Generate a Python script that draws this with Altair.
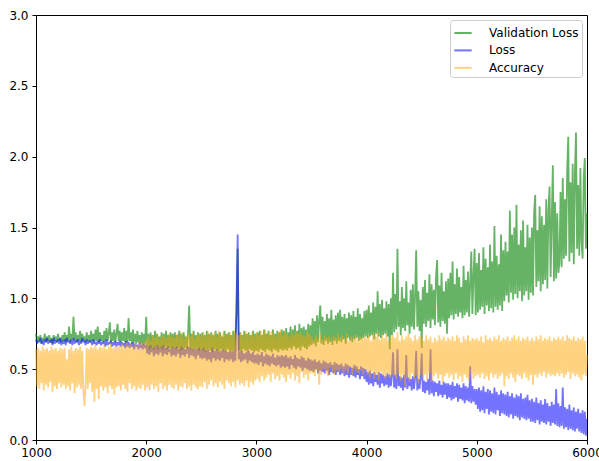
import altair as alt
import pandas as pd

# Training steps (x axis), one reading every 10 steps
steps = list(range(1000, 6001, 10))

# Values, in hundredths (one row = 250 steps)
val_loss = [
    75, 69, 73, 70, 74, 68, 72, 70, 75, 69, 73, 70, 74, 69, 72, 68, 74, 70, 73, 69, 75, 70, 72, 69, 74,
    70, 76, 69, 74, 70, 80, 69, 75, 71, 87, 70, 76, 69, 74, 70, 77, 69, 75, 70, 73, 69, 76, 70, 74, 69,
    77, 70, 75, 69, 78, 70, 80, 69, 76, 70, 74, 69, 77, 70, 79, 70, 75, 83, 69, 76, 70, 78, 69, 75, 82,
    70, 77, 69, 76, 70, 79, 68, 77, 69, 86, 70, 76, 68, 78, 69, 75, 68, 77, 69, 74, 68, 76, 67, 75, 68,
    87, 66, 75, 64, 76, 65, 74, 64, 77, 66, 75, 64, 73, 65, 76, 64, 75, 66, 77, 64, 74, 65, 76, 64, 75,
    65, 76, 64, 74, 65, 77, 63, 75, 64, 76, 65, 73, 64, 76, 95, 64, 75, 63, 77, 65, 74, 64, 76, 63, 75,
    64, 76, 63, 74, 62, 77, 64, 75, 63, 76, 62, 74, 64, 77, 63, 75, 62, 76, 64, 73, 63, 77, 62, 75, 64,
    76, 63, 74, 62, 77, 64, 75, 90, 135, 63, 76, 62, 74, 64, 77, 63, 75, 62, 76, 64, 74, 63, 77, 62, 75,
    63, 76, 62, 77, 64, 74, 63, 78, 62, 75, 64, 77, 63, 74, 62, 78, 64, 75, 63, 77, 62, 76, 64, 78, 63,
    77, 64, 79, 63, 76, 65, 80, 64, 78, 66, 81, 64, 77, 65, 82, 63, 79, 66, 80, 65, 78, 64, 82, 66, 81,
    67, 86, 68, 84, 66, 88, 69, 85, 95, 68, 87, 67, 84, 70, 89, 68, 86, 69, 92, 67, 85, 70, 88, 68, 90,
    70, 92, 69, 87, 71, 89, 68, 86, 72, 90, 70, 88, 69, 91, 71, 87, 72, 93, 70, 89, 71, 86, 72, 91, 73,
    92, 72, 95, 73, 90, 74, 97, 71, 94, 75, 105, 73, 96, 72, 99, 74, 93, 75, 98, 73, 96, 64, 100, 74, 118,
    76, 103, 78, 135, 80, 98, 74, 108, 79, 100, 77, 112, 81, 97, 75, 106, 80, 110, 78, 102, 134, 80, 105, 77, 99,
    65, 108, 82, 113, 80, 104, 84, 117, 79, 110, 85, 106, 81, 115, 127, 83, 109, 80, 118, 84, 105, 82, 112, 75, 114,
    86, 118, 88, 126, 85, 110, 89, 121, 87, 115, 90, 108, 86, 123, 88, 113, 90, 119, 87, 111, 133, 89, 116, 135, 88,
    125, 90, 132, 92, 120, 94, 136, 89, 128, 95, 122, 91, 138, 93, 126, 90, 151, 94, 130, 92, 124, 95, 145, 91, 134,
    98, 140, 102, 133, 97, 162, 104, 145, 99, 150, 103, 166, 100, 138, 105, 148, 98, 155, 102, 136, 105, 152, 99, 143, 104,
    150, 102, 160, 173, 108, 148, 112, 165, 105, 158, 110, 152, 113, 170, 107, 162, 179, 115, 155, 194, 112, 168, 114, 160, 118,
    125, 175, 122, 185, 128, 170, 130, 190, 214, 126, 182, 132, 195, 124, 188, 217, 135, 180, 130, 192, 140, 128, 185, 199, 135,
    160,
]

loss = [
    71, 68, 70, 69, 72, 68, 70, 67, 71, 69, 72, 68, 70, 69, 71, 67, 72, 68, 70, 69, 71, 68, 72, 67, 70,
    68, 71, 67, 72, 69, 70, 68, 71, 67, 72, 68, 70, 69, 71, 67, 70, 68, 72, 69, 70, 67, 71, 68, 70, 69,
    70, 67, 71, 68, 69, 67, 70, 68, 71, 67, 69, 68, 70, 66, 71, 67, 69, 68, 70, 66, 69, 67, 70, 66, 69,
    67, 70, 66, 69, 67, 68, 65, 70, 66, 69, 65, 68, 66, 69, 64, 68, 66, 67, 64, 69, 65, 67, 64, 68, 65,
    67, 61, 66, 60, 67, 62, 65, 59, 66, 61, 67, 60, 65, 62, 66, 59, 67, 61, 65, 60, 66, 62, 64, 59, 66,
    60, 65, 59, 66, 61, 64, 58, 66, 60, 65, 59, 64, 61, 66, 58, 65, 60, 64, 59, 65, 57, 64, 60, 65, 58,
    64, 57, 65, 58, 63, 56, 64, 57, 62, 55, 65, 58, 63, 56, 64, 57, 62, 56, 63, 58, 64, 55, 63, 57, 62,
    56, 63, 57, 62, 55, 64, 56, 100, 145, 57, 62, 55, 63, 56, 61, 57, 62, 54, 63, 56, 61, 55, 62, 54, 60,
    54, 61, 53, 60, 55, 62, 52, 59, 54, 61, 53, 60, 52, 59, 54, 61, 53, 58, 52, 60, 53, 59, 51, 60, 52,
    59, 51, 60, 52, 58, 50, 59, 53, 57, 51, 60, 50, 58, 52, 57, 51, 59, 49, 58, 51, 56, 50, 58, 49, 57,
    49, 56, 48, 57, 50, 55, 47, 56, 49, 54, 48, 56, 47, 55, 49, 54, 46, 55, 48, 53, 47, 55, 46, 54, 48,
    53, 46, 54, 47, 52, 45, 54, 46, 53, 44, 52, 46, 51, 45, 53, 44, 52, 46, 50, 43, 52, 45, 51, 43, 50,
    41, 48, 39, 49, 40, 47, 38, 48, 41, 46, 39, 48, 37, 47, 40, 46, 38, 45, 39, 47, 37, 46, 38, 45, 62,
    37, 46, 36, 64, 38, 45, 37, 44, 35, 46, 37, 60, 36, 44, 38, 43, 35, 45, 36, 44, 63, 35, 43, 36, 44,
    61, 34, 42, 33, 41, 35, 43, 32, 64, 33, 42, 31, 41, 34, 40, 31, 42, 32, 39, 30, 41, 32, 40, 29, 40,
    30, 39, 28, 41, 29, 38, 30, 40, 27, 39, 29, 37, 28, 40, 26, 38, 28, 37, 27, 52, 26, 38, 27, 36, 25,
    36, 22, 37, 20, 35, 21, 38, 19, 34, 22, 36, 18, 35, 20, 33, 19, 37, 18, 34, 21, 32, 17, 35, 19, 33,
    18, 32, 17, 34, 16, 31, 18, 33, 15, 30, 17, 32, 16, 31, 14, 33, 16, 29, 15, 30, 14, 32, 15, 28, 13,
    29, 13, 27, 12, 30, 14, 26, 11, 28, 13, 25, 12, 29, 11, 26, 13, 24, 10, 27, 12, 25, 11, 36, 10, 26,
    9, 24, 10, 37, 8, 23, 9, 22, 7, 25, 8, 21, 7, 23, 6, 20, 8, 22, 6, 19, 5, 21, 4, 20, 3,
    15,
]

accuracy = [
    64, 38, 65, 36, 63, 40, 66, 35, 64, 39, 65, 37, 63, 41, 66, 34, 64, 38, 65, 36, 63, 40, 65, 37, 64,
    39, 65, 36, 57, 38, 64, 35, 66, 40, 63, 33, 65, 37, 64, 39, 66, 36, 63, 34, 24, 38, 65, 36, 64, 40,
    66, 34, 65, 27, 67, 36, 64, 29, 66, 38, 65, 35, 67, 37, 64, 33, 66, 38, 68, 36, 65, 32, 67, 37, 66,
    38, 67, 35, 68, 39, 66, 36, 69, 34, 67, 40, 68, 36, 66, 38, 69, 35, 67, 37, 70, 36, 68, 39, 69, 35,
    71, 37, 73, 35, 70, 39, 74, 36, 72, 38, 75, 34, 71, 40, 73, 36, 74, 38, 72, 35, 75, 39, 73, 37, 74,
    36, 72, 39, 75, 35, 73, 38, 76, 37, 72, 40, 74, 36, 75, 38, 73, 35, 76, 39, 72, 37, 74, 36, 75, 38,
    74, 37, 76, 41, 73, 36, 77, 39, 74, 42, 75, 38, 76, 40, 73, 37, 77, 41, 74, 39, 76, 36, 75, 42, 74,
    40, 76, 38, 73, 41, 77, 37, 75, 42, 74, 39, 76, 40, 73, 38, 77, 42, 75, 37, 74, 41, 76, 39, 73, 42,
    76, 43, 74, 41, 77, 45, 75, 42, 78, 44, 74, 46, 76, 41, 77, 47, 75, 43, 73, 45, 76, 42, 78, 46, 74,
    44, 77, 41, 75, 46, 73, 43, 76, 47, 74, 42, 77, 45, 75, 40, 76, 48, 74, 44, 73, 46, 77, 42, 75, 47,
    73, 47, 71, 45, 74, 49, 72, 39, 75, 46, 71, 50, 74, 47, 72, 45, 73, 51, 70, 48, 74, 46, 72, 49, 75,
    48, 72, 50, 74, 46, 71, 49, 75, 47, 70, 51, 73, 46, 72, 50, 74, 48, 71, 47, 73, 49, 72, 46, 74, 50,
    72, 46, 74, 44, 70, 48, 75, 43, 73, 47, 76, 42, 71, 48, 74, 45, 72, 43, 75, 47, 70, 44, 73, 46, 74,
    45, 72, 43, 76, 47, 70, 42, 74, 46, 71, 38, 73, 44, 75, 41, 72, 47, 70, 43, 74, 45, 71, 40, 73, 46,
    73, 44, 70, 46, 74, 42, 71, 47, 73, 41, 69, 45, 72, 47, 70, 43, 74, 46, 71, 40, 73, 45, 70, 47, 72,
    44, 71, 46, 73, 42, 70, 47, 74, 43, 72, 45, 69, 41, 73, 46, 71, 44, 74, 42, 70, 47, 72, 43, 71, 45,
    72, 46, 70, 44, 73, 47, 69, 43, 74, 45, 71, 42, 72, 47, 70, 44, 73, 46, 71, 43, 74, 45, 70, 47, 72,
    38, 71, 45, 73, 43, 70, 47, 72, 44, 74, 41, 71, 46, 73, 45, 70, 43, 72, 47, 71, 44, 73, 42, 70, 46,
    72, 39, 70, 46, 73, 44, 71, 47, 74, 45, 70, 48, 72, 44, 71, 47, 73, 45, 70, 46, 72, 45, 71, 47, 73,
    45, 71, 47, 73, 44, 70, 46, 74, 48, 72, 43, 71, 47, 73, 45, 70, 46, 72, 44, 71, 42, 73, 46, 70, 45,
    60,
]

series_names = ["Validation Loss", "Loss", "Accuracy"]
series_colors = ["#008000", "#0000ff", "#ffa500"]
series_alpha = [0.6, 0.5, 0.5]
x_ticks = [1000, 2000, 3000, 4000, 5000, 6000]
y_ticks = [0.0, 0.5, 1.0, 1.5, 2.0, 2.5, 3.0]

rows = []
for name, vals in zip(series_names, [val_loss, loss, accuracy]):
    for s, v in zip(steps, vals):
        rows.append({"step": s, "value": v / 100.0, "series": name})
df = pd.DataFrame(rows)

color = alt.Color(
    "series:N",
    scale=alt.Scale(domain=series_names, range=series_colors),
    legend=alt.Legend(title=None),
)
opacity = alt.Opacity(
    "series:N",
    scale=alt.Scale(domain=series_names, range=series_alpha),
    legend=alt.Legend(title=None),
)
x = alt.X(
    "step:Q",
    scale=alt.Scale(domain=[1000, 6000], nice=False, zero=False),
    axis=alt.Axis(values=x_ticks, format="d", title=None, labelFlush=False),
)
y = alt.Y(
    "value:Q",
    scale=alt.Scale(domain=[0, 3], nice=False),
    axis=alt.Axis(values=y_ticks, format=".1f", title=None, labelFlush=False),
)

layers = []
for name in series_names:
    layers.append(
        alt.Chart(df)
        .transform_filter(alt.datum.series == name)
        .mark_line(strokeWidth=1.8, strokeJoin="miter", strokeMiterLimit=1.5)
        .encode(x=x, y=y, color=color, opacity=opacity, order="step:Q")
    )

chart = (
    alt.layer(*layers)
    .properties(
        width=551,
        height=425,
        padding={"left": 36, "top": 15, "right": 12, "bottom": 21},
        autosize=alt.AutoSizeParams(type="none"),
        background="white",
    )
    .configure_view(stroke="black", strokeWidth=1)
    .configure_axis(
        grid=False,
        domainColor="black",
        domainWidth=1,
        tickColor="black",
        tickSize=4,
        labelColor="black",
        labelFont="DejaVu Sans",
        labelFontSize=12,
        labelPadding=4,
    )
    .configure_axisX(labelPadding=3)
    .configure_legend(
        orient="top-right",
        offset=5,
        fillColor="white",
        strokeColor="#cccccc",
        cornerRadius=3,
        padding=3,
        symbolType="stroke",
        symbolSize=300,
        symbolStrokeWidth=2,
        labelFont="DejaVu Sans",
        labelFontSize=12,
        labelColor="black",
        labelOffset=16,
        rowPadding=1.4,
    )
)

chart.save("out.html", embed_options={"renderer": "svg", "actions": False})
